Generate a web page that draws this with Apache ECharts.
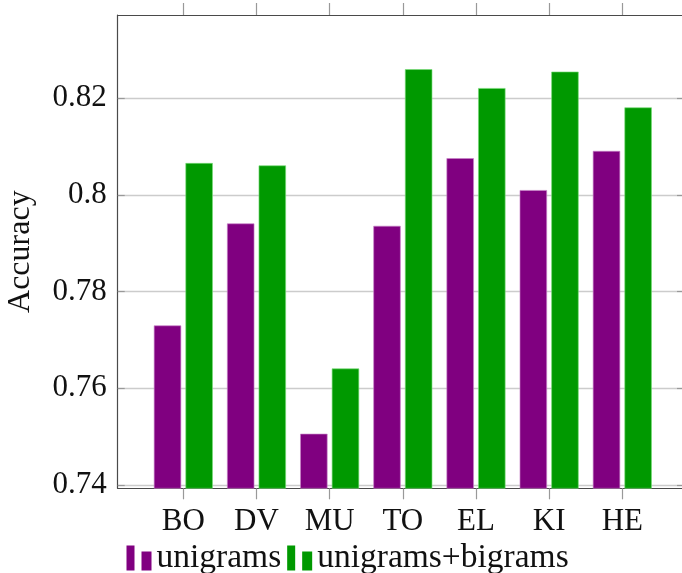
<!DOCTYPE html>
<html>
<head>
<meta charset="utf-8">
<script src="https://cdn.jsdelivr.net/npm/echarts@6/dist/echarts.min.js"></script>
<style>
  html, body { margin: 0; padding: 0; background: #fff; }
  #chart { width: 682px; height: 573px; }
</style>
</head>
<body>
<div id="chart"></div>
<script>
// Datasets on the x axis
const categories = ['BO', 'DV', 'MU', 'TO', 'EL', 'KI', 'HE'];
// Accuracy per dataset
const unigrams = [0.7730, 0.7941, 0.7506, 0.7936, 0.8076, 0.8010, 0.8091];
const unigramsBigrams = [0.8066, 0.8061, 0.7641, 0.8260, 0.8221, 0.8255, 0.8181];
// Y tick values
const yTicks = [0.74, 0.76, 0.78, 0.80, 0.82];
const seriesNames = ['unigrams', 'unigrams+bigrams'];

const FONT = 'Liberation Serif';
const PURPLE = '#800080';
const GREEN = '#009900';
const xIdx = categories.map((_, i) => i);

const X_MIN = -0.897, X_MAX = 6.843;
const Y_MIN = 0.7393, Y_MAX = 0.8372;

const frameLine = { show: true, onZero: false, lineStyle: { color: '#4a4a4a', width: 1.2 } };
const labelText = { fontFamily: FONT, fontSize: 31, color: '#111' };

// Legend glyph: two small vertical bars
const legendIcon = 'path://M0,0H8V25H0Z M15,6H25V25H15Z';

const chart = echarts.init(document.getElementById('chart'), null, { renderer: 'canvas' });

chart.setOption({
  animation: false,
  backgroundColor: '#fff',
  textStyle: { fontFamily: FONT },
  grid: {
    left: 117.7, right: -2, top: 15, bottom: 84.7,
    containLabel: false, outerBoundsMode: 'none'
  },
  legend: {
    data: seriesNames.map((n, i) => ({
      name: n, icon: legendIcon,
      itemStyle: { color: i ? GREEN : PURPLE, borderWidth: 0 }
    })),
    left: 126.5,
    top: 541,
    itemWidth: 25,
    itemHeight: 25,
    itemGap: 6,
    padding: 0,
    textStyle: { fontFamily: FONT, fontSize: 33.5, color: '#111' }
  },
  xAxis: [
    {
      type: 'value', position: 'bottom', min: X_MIN, max: X_MAX,
      axisLine: frameLine,
      axisTick: { show: true, inside: false, length: 11, customValues: xIdx, lineStyle: { color: '#999', width: 1.2 } },
      axisLabel: Object.assign({
        show: true, customValues: xIdx, margin: 18,
        formatter: v => categories[Math.round(v)] || ''
      }, labelText),
      splitLine: { show: false }
    },
    {
      type: 'value', position: 'top', min: X_MIN, max: X_MAX,
      axisLine: frameLine,
      axisTick: { show: true, inside: false, length: 12, customValues: xIdx, lineStyle: { color: '#999', width: 1.2 } },
      axisLabel: { show: false },
      splitLine: { show: false }
    }
  ],
  yAxis: [
    {
      type: 'value', position: 'left', min: Y_MIN, max: Y_MAX,
      name: 'Accuracy', nameLocation: 'middle', nameRotate: 90, nameGap: 81,
      nameTextStyle: { fontFamily: FONT, fontSize: 32, color: '#111' },
      axisLine: frameLine,
      axisTick: { show: true, inside: true, length: 7, customValues: yTicks, lineStyle: { color: '#999', width: 1.2 } },
      axisLabel: Object.assign({
        show: true, customValues: yTicks, margin: 11,
        formatter: v => String(+(+v).toFixed(2))
      }, labelText),
      splitLine: { show: true, lineStyle: { color: '#cccccc', width: 1.3 } }
    },
    {
      type: 'value', position: 'right', min: Y_MIN, max: Y_MAX,
      axisLine: frameLine,
      axisTick: { show: true, inside: true, length: 7, customValues: yTicks, lineStyle: { color: '#999', width: 1.2 } },
      axisLabel: { show: false },
      splitLine: { show: false }
    }
  ],
  series: [
    {
      name: seriesNames[0], type: 'bar', xAxisIndex: 0, yAxisIndex: 0,
      barWidth: 27.5, barGap: '15%',
      itemStyle: { color: PURPLE, borderColor: 'rgba(200,130,200,0.8)', borderWidth: 0.8 },
      data: unigrams.map((v, i) => [i, v])
    },
    {
      name: seriesNames[1], type: 'bar', xAxisIndex: 0, yAxisIndex: 0,
      barWidth: 27.5, barGap: '15%',
      itemStyle: { color: GREEN, borderColor: 'rgba(120,220,120,0.8)', borderWidth: 0.8 },
      data: unigramsBigrams.map((v, i) => [i, v])
    }
  ]
});
</script>
</body>
</html>
